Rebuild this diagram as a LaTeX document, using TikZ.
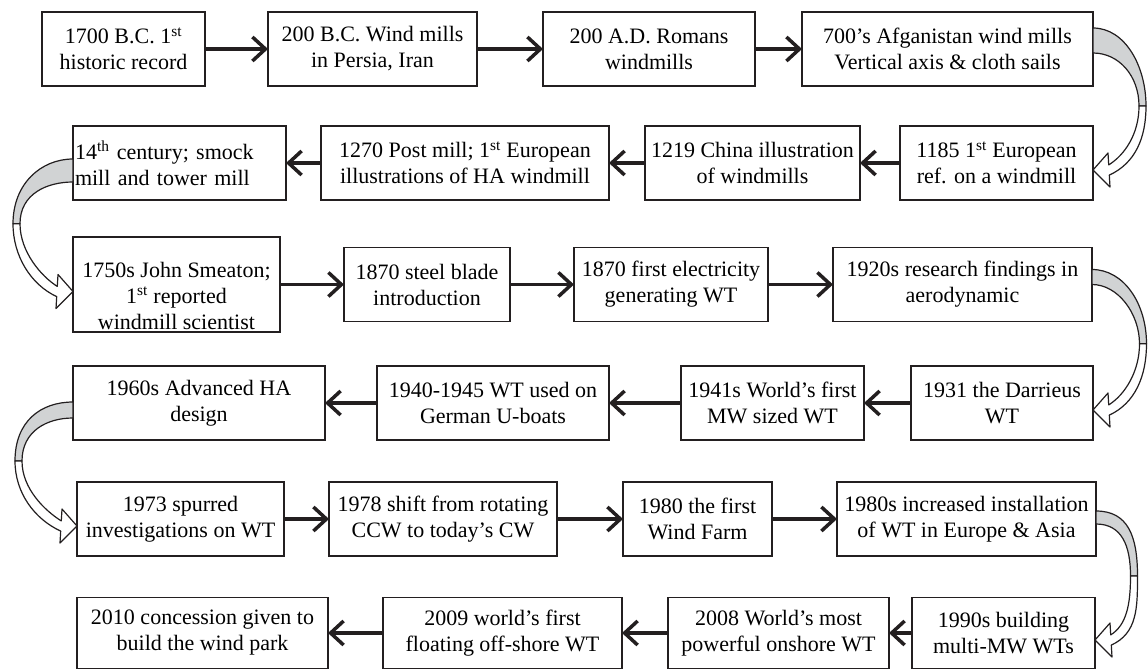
\documentclass[tikz,border=0pt]{standalone}
\usepackage{fontspec}
\setmainfont{Liberation Serif}
\usetikzlibrary{arrows.meta, calc}
\definecolor{inkline}{RGB}{35,31,32}
\definecolor{ribbon}{RGB}{209,211,212}

% curved ribbon arrow: from, to, side (1 right, -1 left), top, bottom, reach
\newcommand{\bendarrow}[6]{%
	\coordinate (mid) at ($(#1)!0.5!(#2)$);
	\coordinate (g1) at ($(#1)+(0,#4)$);
	\coordinate (g2) at ($(#1)+(0,#5)$);
	\coordinate (pout) at ($(mid)+({#3*#6},0)$);
	\coordinate (pin) at ($(mid)+({#3*(#6-7)},0)$);
	\coordinate (tip) at ($(#2)+(0,7)$);
	\coordinate (hu) at ($(tip)+({#3*15},-17)$);
	\coordinate (hl) at ($(tip)+({#3*17},17)$);
	\coordinate (bu) at ($(hu)!0.35!(hl)$);
	\coordinate (bl) at ($(hu)!0.65!(hl)$);
	\draw[ribbon edge, fill=ribbon] (g1) .. controls +({#3*32},0) and +(0,-40) .. (pout) -- (pin) .. controls +(0,-30) and +({#3*26},0) .. (g2) -- cycle;
	\draw[ribbon edge, fill=white] (pin) .. controls +(0,28) and +({#3*16},-10) .. (bu) -- (hu) -- (tip) -- (hl) -- (bl) .. controls +({#3*26},-12) and +(0,32) .. (pout) -- cycle;
}

\begin{document}
\begin{tikzpicture}[x=1pt, y=-1pt,
	stagebase/.style={draw=inkline, line width=1.5pt, minimum height=74pt, inner sep=2pt, outer sep=0pt, font=\fontsize{22}{26}\selectfont},
	stage/.style={stagebase, align=center},
	flow/.style={draw=inkline, line width=3.5pt, -{Straight Barb[length=13pt, width=24pt]}},
	ribbon edge/.style={draw=inkline, line width=1.2pt, line join=round}]
	    \useasboundingbox (0, 0) rectangle (1148, 670);
	    
	    % row 1
	    \node[stage, minimum width=163pt] at (123.5, 49) (bc1700) {1700 B.C. 1\textsuperscript{st}\\historic record};
	    \node[stage, minimum width=209pt] at (372.5, 49) (bc200) {200 B.C. Wind mills\\in Persia, Iran};
	    \node[stage, minimum width=212pt] at (649, 49) (ad200) {200 A.D. Romans\\windmills};
	    \node[stage, minimum width=291pt] at (947.5, 49) (ad700) {700’s Afganistan wind mills\\Vertical axis \& cloth sails};
	    
	    % row 2
	    \node[stage, minimum width=193pt] at (996.5, 163) (ad1185) {1185 1\textsuperscript{st} European\\ref. on a windmill};
	    \node[stage, minimum width=215pt] at (752.5, 163) (ad1219) {1219 China illustration\\of windmills};
	    \node[stage, minimum width=288pt] at (465, 163) (ad1270) {1270 Post mill; 1\textsuperscript{st} European\\illustrations of HA windmill};
	    \node[stage, align=left, text width=209pt, inner xsep=2pt] at (179.5, 163) (c14) {14\textsuperscript{th} century; smock\\mill and tower mill};
	    
	    % row 3
	    \node[stagebase, minimum width=207pt, minimum height=95pt] at (176.5, 284.5) (ad1750) {\smash{\raisebox{-19pt}{\begin{tabular}{@{}c@{}}1750s John Smeaton;\\1\textsuperscript{st} reported\\windmill scientist\end{tabular}}}};
	    \node[stage, minimum width=166pt] at (427, 284.5) (steel1870) {1870 steel blade\\introduction};
	    \node[stage, minimum width=194pt] at (671, 284.5) (elec1870) {1870 first electricity\\generating WT};
	    \node[stage, minimum width=259pt] at (962.5, 284.5) (ad1920) {1920s research findings in\\aerodynamic};
	    
	    % row 4
	    \node[stage, minimum width=182pt] at (1002, 403) (ad1931) {1931 the Darrieus\\WT};
	    \node[stage, minimum width=183pt] at (772.5, 403) (ad1941) {1941s World’s first\\MW sized WT};
	    \node[stage, minimum width=232pt] at (493, 403) (ad1940) {1940-1945 WT used on\\German U-boats};
	    \node[stage, minimum width=252pt] at (199, 403) (ad1960) {1960s Advanced HA\\design};
	    
	    % row 5
	    \node[stage, minimum width=207pt] at (180.5, 519) (ad1973) {1973 spurred\\investigations on WT};
	    \node[stage, minimum width=228pt] at (443, 519) (ad1978) {1978 shift from rotating\\CCW to today’s CW};
	    \node[stage, minimum width=149pt] at (697.5, 519) (ad1980) {1980 the first\\Wind Farm};
	    \node[stage, minimum width=259pt] at (966.5, 519) (ad1980s) {1980s increased installation\\of WT in Europe \& Asia};
	    
	    % row 6
	    \node[stage, minimum width=183pt, minimum height=71pt] at (1003.5, 633) (ad1990) {1990s building\\multi-MW WTs};
	    \node[stage, minimum width=221pt, minimum height=71pt] at (778.5, 633) (ad2008) {2008 World’s most\\powerful onshore WT};
	    \node[stage, minimum width=239pt, minimum height=71pt] at (502.5, 633) (ad2009) {2009 world’s first\\floating off-shore WT};
	    \node[stage, minimum width=251pt, minimum height=71pt] at (202.5, 633) (ad2010) {2010 concession given to\\build the wind park};
	    
	    % straight links
	    \draw[flow] (bc1700) -- (bc200);
	    \draw[flow] (bc200) -- (ad200);
	    \draw[flow] (ad200) -- (ad700);
	    \draw[flow] (ad1185) -- (ad1219);
	    \draw[flow] (ad1219) -- (ad1270);
	    \draw[flow] (ad1270) -- (c14);
	    \draw[flow] (ad1750) -- (steel1870);
	    \draw[flow] (steel1870) -- (elec1870);
	    \draw[flow] (elec1870) -- (ad1920);
	    \draw[flow] (ad1931) -- (ad1941);
	    \draw[flow] (ad1941) -- (ad1940);
	    \draw[flow] (ad1940) -- (ad1960);
	    \draw[flow] (ad1973) -- (ad1978);
	    \draw[flow] (ad1978) -- (ad1980);
	    \draw[flow] (ad1980) -- (ad1980s);
	    \draw[flow] (ad1990) -- (ad2008);
	    \draw[flow] (ad2008) -- (ad2009);
	    \draw[flow] (ad2009) -- (ad2010);
	    
	    % row turns
	    \bendarrow{ad700.east}{ad1185.east}{1}{-21}{4}{53}
	    \bendarrow{c14.west}{ad1750.west}{-1}{-4}{19}{60}
	    \bendarrow{ad1920.east}{ad1931.east}{1}{-15}{0}{54}
	    \bendarrow{ad1960.west}{ad1973.west}{-1}{-1}{15}{60}
	    \bendarrow{ad1980s.east}{ad1990.east}{1}{-8}{5}{42}
	    
	    \end{tikzpicture}
\end{document}
